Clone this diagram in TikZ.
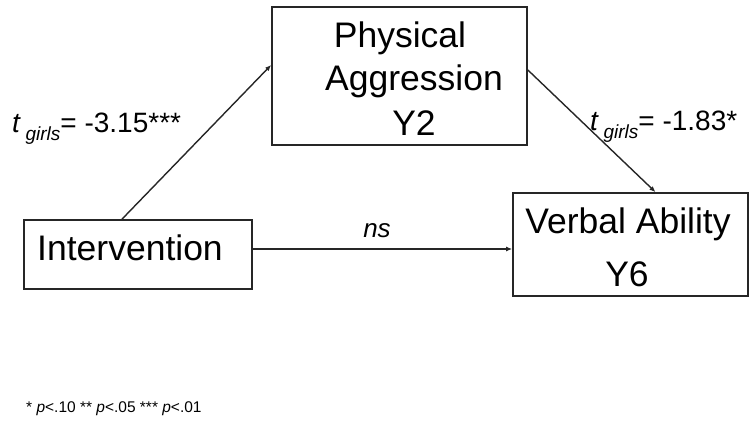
\documentclass[tikz,border=0pt]{standalone}
\usepackage{fontspec}
\setmainfont{Liberation Sans}
\usetikzlibrary{arrows.meta}
\begin{document}
\begin{tikzpicture}[x=1pt,y=-1pt,
  box/.style={draw=black!85, line width=1.7pt, inner sep=0pt},
  boxtext/.style={anchor=base, inner sep=0pt, font=\fontsize{35.5}{40}\selectfont},
  conn/.style={draw=black!85, line width=1.4pt, -{Latex[length=6pt,width=5pt]}},
  coef/.style={anchor=base west, inner sep=0pt, font=\fontsize{28}{30}\selectfont},
  sub/.style={}]
\useasboundingbox (0,0) rectangle (750,426);

% variable boxes
\node[box, minimum width=228pt, minimum height=69pt] (int) at (138,254.5) {};
\node[box, minimum width=255pt, minimum height=138pt] (pa) at (399.5,76) {};
\node[box, minimum width=235pt, minimum height=103pt] (va) at (630.5,244.5) {};

% box captions
\node[boxtext] (intT) at (130,260) {Intervention};
\node[boxtext] (paA) at (400,47) {Physical};
\node[boxtext] (paB) at (414,90) {Aggression};
\node[boxtext] (paC) at (414,135) {Y2};
\node[boxtext] (vaA) at (628,233) {Verbal Ability};
\node[boxtext] (vaB) at (627,286) {Y6};

% paths
\draw[conn] ([xshift=-16pt]int.north) -- ([yshift=11pt]pa.west);
\draw[conn] ([yshift=6pt]pa.east) -- ([xshift=25pt]va.north);
\draw[conn] ([yshift=5.5pt]int.east) -- ([yshift=-4.5pt]va.west);

% path coefficients
\newcommand{\tgirls}{\textit{t}\,\raisebox{-8pt}{\fontsize{19}{19}\selectfont\itshape girls}}
\node[coef] (c1) at (12,132) {\tgirls= -3.15***};
\node[coef] (c2) at (590,130) {\tgirls= -1.83*};
\node[anchor=base, inner sep=0pt, font=\fontsize{26}{28}\selectfont\itshape] (ns) at (377,237) {ns};

% significance legend
\node[anchor=base west, inner sep=0pt, font=\fontsize{15.5}{18}\selectfont] (note) at (26,412)
  {* \textit{p}<.10 ** \textit{p}<.05 *** \textit{p}<.01};
\end{tikzpicture}
\end{document}
